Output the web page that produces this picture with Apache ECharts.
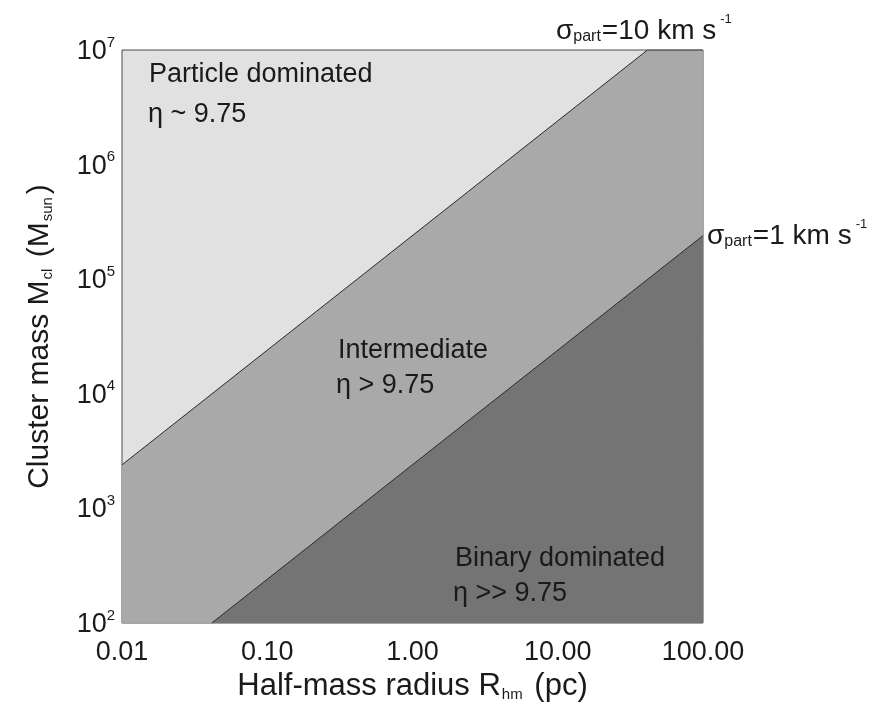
<!DOCTYPE html>
<html>
<head>
<meta charset="utf-8">
<script src="https://cdn.jsdelivr.net/npm/echarts@6/dist/echarts.min.js"></script>
<style>html,body{margin:0;padding:0;background:#fff}#c{width:881px;height:703px}</style>
</head>
<body>
<div id="c"></div>
<script>
// Boundary σ_part = 10 km/s (upper edge of intermediate region)
const radius10 = [0.01, 41.5, 100];
const mass10 = [2400, 1e7, 1e7];
// Boundary σ_part = 1 km/s (upper edge of binary dominated region)
const radius1 = [0.0415, 100];
const mass1 = [100, 2.4e5];
const xTicks = [0.01, 0.1, 1, 10, 100];
const yTicks = [1e2, 1e3, 1e4, 1e5, 1e6, 1e7];

const FONT = '"Liberation Sans", Arial, Helvetica, sans-serif';
const TXT = '#1a1a1a';

function pairs(xs, ys) { return xs.map((x, i) => [x, ys[i]]); }

const chart = echarts.init(document.getElementById('c'), null, {renderer: 'canvas'});

const sigmaRich = {
  g: {fontSize: 28, fontFamily: FONT, fill: TXT, verticalAlign: 'bottom', lineHeight: 32},
  n: {fontSize: 28, fontFamily: FONT, fill: TXT, verticalAlign: 'bottom', lineHeight: 32},
  sub: {fontSize: 16, fontFamily: FONT, fill: TXT, verticalAlign: 'bottom', lineHeight: 12, padding: [0, 1, 0, 0]},
  sup: {fontSize: 13, fontFamily: FONT, fill: TXT, verticalAlign: 'top', lineHeight: 13, padding: [0, 0, 0, 4]}
};

const option = {
  backgroundColor: '#ffffff',
  animation: false,
  grid: {
    left: 122, right: 178, top: 50, bottom: 80,
    containLabel: false, outerBoundsMode: 'none',
    show: true, backgroundColor: '#e1e1e1', borderColor: '#4a4a4a', borderWidth: 1
  },
  xAxis: {
    type: 'log', logBase: 10, min: 0.01, max: 100,
    splitLine: {show: false}, axisLine: {show: false}, axisTick: {show: false},
    axisLabel: {
      margin: 16, color: TXT, fontFamily: FONT, fontSize: 27,
      formatter: v => Number(v).toFixed(2)
    },
    name: 'Half-mass radius R{sub|hm} (pc)',
    nameLocation: 'middle', nameGap: 32,
    nameTextStyle: {
      color: TXT, fontFamily: FONT, fontSize: 31,
      rich: {sub: {fontSize: 15, fontFamily: FONT, color: TXT, verticalAlign: 'bottom', padding: [0, 3, 0, 1]}}
    }
  },
  yAxis: {
    type: 'log', logBase: 10, min: 100, max: 1e7,
    splitLine: {show: false}, axisLine: {show: false}, axisTick: {show: false},
    axisLabel: {
      margin: 7, color: TXT, fontFamily: FONT,
      formatter: v => '{b|10}{s|' + Math.round(Math.log10(v)) + '}',
      rich: {
        b: {fontSize: 27, fontFamily: FONT, color: TXT, verticalAlign: 'bottom', lineHeight: 30, padding: [4, 0, 0, 0]},
        s: {fontSize: 15, fontFamily: FONT, color: TXT, verticalAlign: 'top', lineHeight: 15}
      }
    },
    name: 'Cluster mass M{sub|cl} (M{sub|sun})',
    nameLocation: 'middle', nameGap: 67, nameRotate: 90,
    nameTextStyle: {
      color: TXT, fontFamily: FONT, fontSize: 30,
      rich: {sub: {fontSize: 15, fontFamily: FONT, color: TXT, verticalAlign: 'bottom', padding: [0, 3, 0, 1]}}
    }
  },
  series: [
    {
      type: 'line', name: 'sigma10', data: pairs(radius10, mass10),
      showSymbol: false, clip: true, z: 2,
      lineStyle: {color: '#2a2a2a', width: 1},
      areaStyle: {color: '#a9a9a9', opacity: 1, origin: 'start'}
    },
    {
      type: 'line', name: 'sigma1', data: pairs(radius1, mass1),
      showSymbol: false, clip: true, z: 3,
      lineStyle: {color: '#2a2a2a', width: 1},
      areaStyle: {color: '#747474', opacity: 1, origin: 'start'}
    }
  ],
  graphic: [
    {type: 'text', left: 149, top: 61, z: 10, style: {text: 'Particle dominated', font: '27px ' + FONT, fill: TXT}},
    {type: 'text', left: 148, top: 101, z: 10, style: {text: 'η ~ 9.75', font: '27px ' + FONT, fill: TXT}},
    {type: 'text', left: 338, top: 337, z: 10, style: {text: 'Intermediate', font: '27px ' + FONT, fill: TXT}},
    {type: 'text', left: 336, top: 372, z: 10, style: {text: 'η > 9.75', font: '27px ' + FONT, fill: TXT}},
    {type: 'text', left: 455, top: 545, z: 10, style: {text: 'Binary dominated', font: '27px ' + FONT, fill: TXT}},
    {type: 'text', left: 453, top: 580, z: 10, style: {text: 'η >> 9.75', font: '27px ' + FONT, fill: TXT}},
    {type: 'text', left: 556, top: 13, z: 10, style: {text: '{g|σ}{sub|part}{n|=10 km s}{sup|-1}', rich: sigmaRich}},
    {type: 'text', left: 707, top: 218, z: 10, style: {text: '{g|σ}{sub|part}{n|=1 km s}{sup|-1}', rich: sigmaRich}}
  ]
};
chart.setOption(option);
</script>
</body>
</html>
